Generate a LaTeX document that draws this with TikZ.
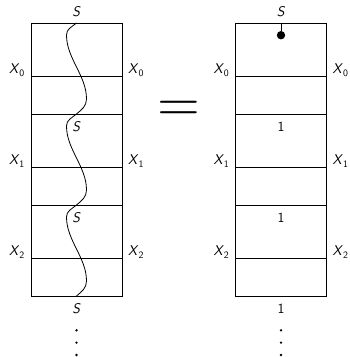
\documentclass[tikz,border=0pt]{standalone}
\usepackage{tikz}
\usetikzlibrary{positioning, calc}

\newcommand{\sv}[1]{\textit{#1}}

\begin{document}
\begin{tikzpicture}[
    x=1pt, y=1pt,
    font=\fontsize{14}{16}\selectfont\sffamily,
    frame/.style={draw, line width=0.9pt},
    cut/.style={line width=0.9pt},
    strand/.style={line width=0.8pt},
    xlabel_left/.style={anchor=base east, inner sep=0pt, xshift=-6pt, yshift=2pt},
    xlabel_right/.style={anchor=base west, inner sep=0pt, xshift=6pt, yshift=2pt},
    top_label/.style={anchor=base, inner sep=0pt, yshift=6pt},
    low_label/.style={anchor=base, inner sep=0pt, yshift=-17.5pt},
    bead/.style={circle, fill, inner sep=0pt, minimum size=8.4pt}
]

    \useasboundingbox (0,0) rectangle (350,357);

    % Define both columns (A left, B right)
    \foreach \col/\x in {A/31, B/235.5} {
        \draw[frame] (\x,61) rectangle (\x+91,334);
        \foreach \k in {0,1,2,3} {
            \coordinate (\col-s\k) at (\x+45.5, 334-91*\k);
        }
        \foreach \k in {0,1,2} {
            \coordinate (\col-w\k) at (\x, 281-91*\k);
            \coordinate (\col-e\k) at (\x+91, 281-91*\k);
            \coordinate (\col-cw\k) at (\x, 243-91*\k);
            \coordinate (\col-ce\k) at (\x+91, 243-91*\k);
            \draw[cut] (\col-w\k) -- (\col-e\k);
            \draw[cut] (\col-cw\k) -- (\col-ce\k);
            \node[xlabel_left] (\col-xl\k) at (\col-w\k) {\sv{X}\textsubscript{\k}};
            \node[xlabel_right] (\col-xr\k) at (\col-e\k) {\sv{X}\textsubscript{\k}};
        }
    }

    % Left column: the strand S
    \node[top_label] (A-S0) at (A-s0) {\sv{S}};
    \foreach \k [evaluate=\k as \next using int(\k+1)] in {0,1,2} {
        \node[low_label] (A-S\next) at (A-s\next) {\sv{S}};
        \draw[strand] (A-s\k)
            to[out=-140, in=90] ($(A-s\k)+(-10,-12)$)
            to[out=-90, in=90, looseness=0.9] ($(A-s\k)+(10,-76)$)
            to[out=-90, in=40] (A-s\next);
    }

    % Right column: the bead and the ones
    \node[top_label] (B-S0) at (B-s0) {\sv{S}};
    \node[bead, below=7.8pt of B-s0] (B-bead) {};
    \draw[strand] (B-s0) -- (B-bead);
    \foreach \k in {1,2,3} {
        \node[low_label] (B-one\k) at (B-s\k) {1};
    }

    % Equality
    \node[inner sep=0pt] (eq) at (178.8,246)
        {\scalebox{3.9}{$=$}};

    % Continuation dots
    \foreach \x in {76.5, 281} {
        \foreach \d in {0,1,2} {
            \fill (\x, 26.7-12.35*\d) circle (1.3);
        }
    }

\end{tikzpicture}
\end{document}
